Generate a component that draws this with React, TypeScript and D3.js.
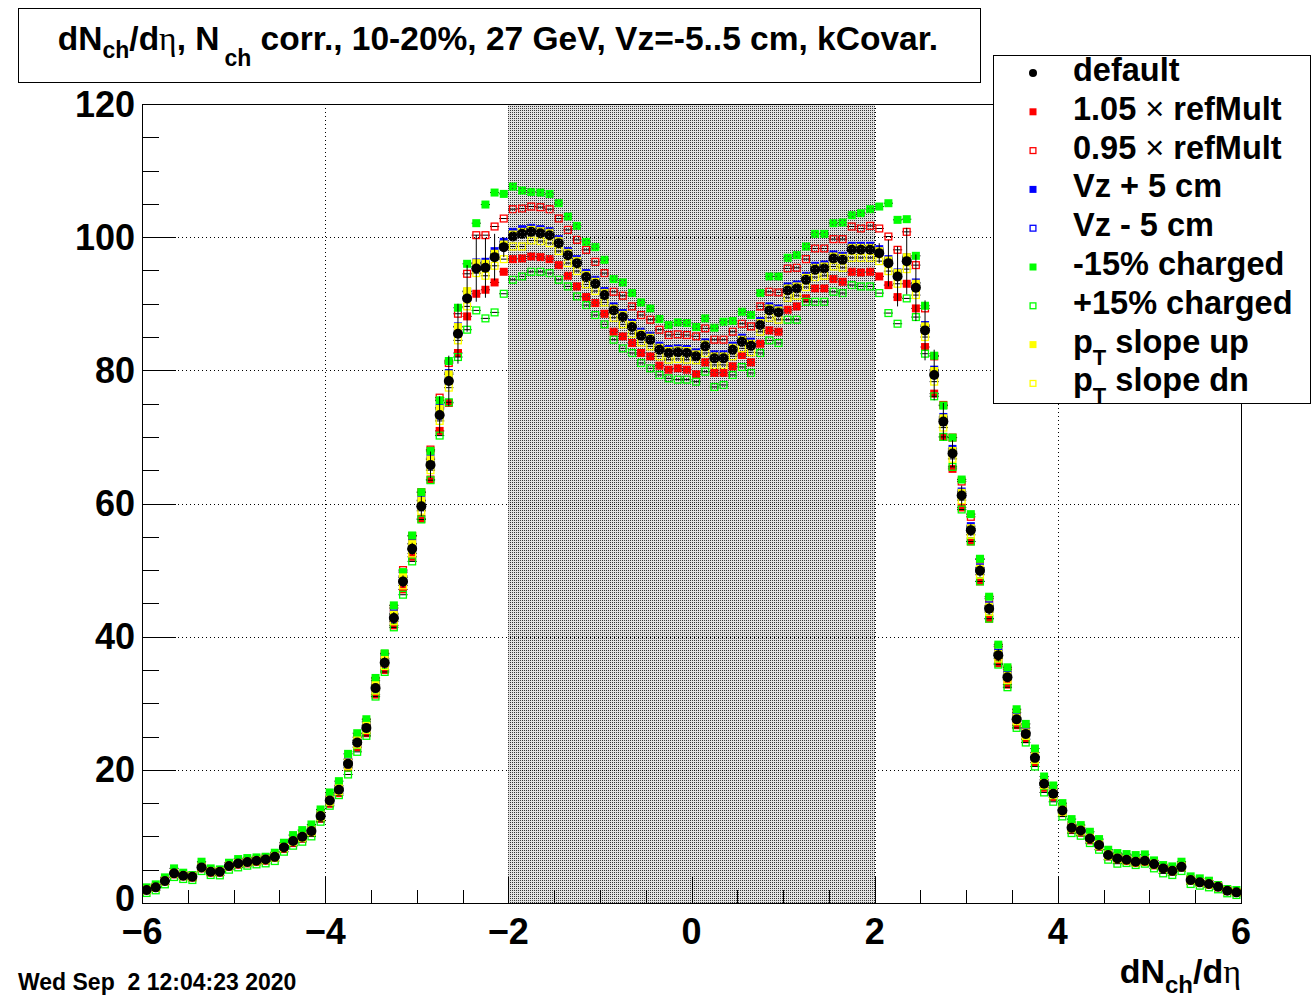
import React from "react";
import * as d3 from "d3";

// ---- binning of the histogram (eta axis) ----
const ETA_MIN = -6;
const ETA_MAX = 6;
const N_BINS = 120;
const Y_MIN = 0;
const Y_MAX = 120;

// ---- series values (dNch/deta per bin, bins from -6 to 6, width 0.1) ----
const DEFAULT = [
  1.95, 2.35, 3.3, 4.45, 4.1, 3.95, 5.35, 4.7, 4.7, 5.55,
  5.95, 6.15, 6.35, 6.55, 6.95, 8.35, 9.3, 9.95, 10.8, 13.05,
  15.4, 17.0, 20.9, 24.1, 26.3, 32.3, 36.1, 42.8, 48.3, 53.2,
  59.6, 65.8, 73.3, 78.4, 85.5, 90.8, 95.3, 95.4, 97.0, 98.5,
  100.1, 100.5, 100.8, 100.6, 100.3, 99.1, 97.3, 96.1, 94.0, 93.0,
  91.3, 89.0, 88.0, 86.5, 85.2, 84.6, 83.1, 82.6, 82.7, 82.6,
  82.1, 83.6, 81.8, 81.8, 83.1, 84.3, 83.7, 86.8, 89.0, 88.7,
  92.0, 92.3, 93.6, 95.1, 95.3, 96.8, 96.6, 98.1, 98.1, 98.1,
  97.6, 96.1, 94.1, 96.4, 92.4, 86.0, 79.3, 72.3, 67.5, 61.2,
  56.0, 49.9, 44.2, 37.2, 33.9, 27.6, 25.4, 21.8, 17.9, 16.4,
  13.9, 11.3, 10.9, 9.7, 8.7, 7.2, 6.7, 6.5, 6.2, 6.35,
  5.85, 5.2, 4.85, 5.45, 3.45, 3.1, 2.85, 2.45, 1.85, 1.6,
];

const DEFAULT_ERR = [
  0.3, 0.3, 0.3, 0.3, 0.3, 0.3, 0.3, 0.3, 0.3, 0.3,
  0.3, 0.3, 0.3, 0.3, 0.3, 0.3, 0.4, 0.4, 0.4, 0.4,
  0.6, 0.6, 0.6, 0.6, 0.6, 0.6, 0.9, 0.9, 0.9, 0.9,
  1.5, 2.0, 2.8, 3.8, 4.5, 5.0, 5.0, 4.5, 3.5, 1.5,
  0.6, 0.6, 0.6, 0.6, 0.6, 0.6, 0.6, 0.6, 0.6, 0.6,
  0.6, 0.6, 0.6, 0.6, 0.6, 0.6, 0.6, 0.6, 0.6, 0.6,
  0.6, 0.6, 0.6, 0.6, 0.6, 0.6, 0.6, 0.6, 0.6, 0.6,
  0.6, 0.6, 0.6, 0.6, 0.6, 0.6, 0.6, 0.6, 0.6, 0.6,
  1.5, 3.5, 4.5, 5.0, 5.0, 4.5, 3.8, 2.8, 2.0, 1.5,
  0.9, 0.9, 0.9, 0.9, 0.6, 0.6, 0.6, 0.6, 0.6, 0.6,
  0.4, 0.4, 0.4, 0.4, 0.3, 0.3, 0.3, 0.3, 0.3, 0.3,
  0.3, 0.3, 0.3, 0.3, 0.3, 0.3, 0.3, 0.3, 0.3, 0.3,
];

const REF105 = [
  1.9, 2.3, 3.2, 4.3, 4.0, 3.8, 5.2, 4.55, 4.55, 5.4,
  5.75, 5.95, 6.15, 6.35, 6.75, 8.1, 9.0, 9.65, 10.5, 12.65,
  14.9, 16.5, 20.3, 23.4, 25.5, 31.3, 35.0, 41.7, 47.1, 52.0,
  57.7, 63.6, 70.9, 75.1, 82.6, 88.1, 91.5, 92.1, 93.2, 94.8,
  96.7, 96.8, 97.1, 97.0, 96.7, 95.8, 94.2, 92.6, 91.0, 90.1,
  88.5, 85.8, 85.1, 84.1, 82.6, 82.1, 80.7, 80.1, 80.3, 80.1,
  79.4, 81.2, 79.6, 79.6, 80.6, 82.3, 81.2, 84.0, 86.0, 85.8,
  89.1, 89.6, 90.8, 92.3, 92.3, 93.7, 93.3, 94.8, 94.7, 94.8,
  94.1, 92.8, 91.0, 93.0, 89.3, 83.5, 76.5, 70.0, 65.2, 59.4,
  54.3, 48.3, 42.7, 36.0, 32.8, 26.7, 24.6, 21.1, 17.3, 15.9,
  13.5, 10.95, 10.55, 9.4, 8.45, 7.0, 6.5, 6.3, 6.0, 6.15,
  5.65, 5.05, 4.7, 5.3, 3.35, 3.0, 2.75, 2.35, 1.8, 1.55,
];

const REF095 = [
  2.0, 2.45, 3.4, 4.6, 4.25, 4.1, 5.55, 4.85, 4.85, 5.75,
  6.15, 6.35, 6.55, 6.8, 7.2, 8.65, 9.6, 10.3, 11.2, 13.5,
  15.9, 17.6, 21.6, 24.9, 27.2, 33.4, 37.4, 44.3, 50.0, 55.1,
  61.7, 68.1, 75.9, 81.1, 88.5, 94.5, 100.3, 100.3, 101.6, 102.8,
  104.2, 104.3, 104.6, 104.5, 104.2, 102.8, 101.1, 99.6, 98.1, 96.3,
  94.6, 91.8, 91.2, 89.6, 88.3, 87.6, 86.1, 85.3, 85.4, 85.3,
  85.1, 86.3, 84.6, 84.6, 85.8, 87.0, 86.6, 89.6, 91.8, 91.7,
  95.3, 95.4, 96.7, 98.3, 98.3, 99.7, 99.7, 101.6, 101.3, 101.7,
  101.3, 100.1, 98.1, 100.8, 95.8, 89.3, 82.1, 74.8, 69.9, 63.3,
  58.0, 51.6, 45.7, 38.5, 35.1, 28.6, 26.3, 22.6, 18.5, 17.0,
  14.4, 11.7, 11.3, 10.0, 9.0, 7.45, 6.95, 6.7, 6.4, 6.55,
  6.05, 5.4, 5.0, 5.65, 3.55, 3.2, 2.95, 2.55, 1.9, 1.65,
];

const VZ_PLUS = [
  1.95, 2.4, 3.35, 4.5, 4.15, 4.0, 5.4, 4.75, 4.75, 5.6,
  6.0, 6.2, 6.4, 6.6, 7.0, 8.45, 9.4, 10.05, 10.9, 13.2,
  15.6, 17.3, 21.2, 24.5, 26.7, 32.8, 36.7, 43.5, 49.1, 54.0,
  60.5, 66.8, 74.4, 79.6, 86.6, 91.8, 96.2, 96.3, 97.9, 99.3,
  100.8, 101.2, 101.4, 101.2, 100.9, 99.7, 97.9, 96.7, 94.6, 93.6,
  91.9, 89.6, 88.6, 87.1, 85.8, 85.2, 83.7, 83.2, 83.3, 83.2,
  82.7, 84.2, 82.4, 82.4, 83.7, 84.9, 84.3, 87.4, 89.6, 89.3,
  92.6, 92.9, 94.2, 95.7, 95.9, 97.4, 97.2, 98.7, 98.7, 98.7,
  98.2, 96.7, 94.7, 97.0, 93.2, 86.8, 80.1, 73.0, 68.2, 61.8,
  56.6, 50.4, 44.7, 37.6, 34.3, 27.9, 25.7, 22.0, 18.1, 16.6,
  14.05, 11.4, 11.0, 9.8, 8.8, 7.3, 6.8, 6.55, 6.25, 6.4,
  5.9, 5.25, 4.9, 5.5, 3.5, 3.15, 2.9, 2.5, 1.9, 1.6,
];

const VZ_MINUS = [
  1.9, 2.35, 3.25, 4.4, 4.1, 3.9, 5.3, 4.7, 4.65, 5.5,
  5.9, 6.1, 6.3, 6.5, 6.9, 8.3, 9.25, 9.9, 10.75, 13.0,
  15.3, 16.9, 20.8, 24.0, 26.2, 32.2, 36.0, 42.7, 48.2, 53.1,
  59.5, 65.7, 73.2, 78.4, 85.6, 91.0, 95.6, 95.8, 97.4, 98.9,
  100.5, 100.9, 101.1, 100.9, 100.6, 99.4, 97.6, 96.4, 94.3, 93.3,
  91.6, 89.3, 88.3, 86.8, 85.5, 84.9, 83.4, 82.9, 83.0, 82.9,
  82.4, 83.9, 82.1, 82.1, 83.4, 84.6, 84.0, 87.1, 89.3, 89.0,
  92.3, 92.6, 93.9, 95.4, 95.6, 97.1, 96.9, 98.4, 98.4, 98.4,
  97.9, 96.4, 94.4, 96.7, 92.7, 86.3, 79.6, 72.6, 67.8, 61.5,
  56.2, 50.1, 44.4, 37.4, 34.1, 27.7, 25.5, 21.9, 18.0, 16.5,
  13.95, 11.35, 10.95, 9.75, 8.75, 7.25, 6.75, 6.5, 6.2, 6.35,
  5.85, 5.2, 4.85, 5.45, 3.45, 3.1, 2.85, 2.45, 1.85, 1.6,
];

const CHG_M15 = [
  2.35, 2.8, 3.85, 5.2, 4.55, 4.2, 6.2, 5.2, 5.05, 6.05,
  6.6, 6.75, 6.85, 6.95, 7.55, 9.05, 10.2, 10.95, 11.8, 14.05,
  16.6, 18.3, 22.4, 25.5, 27.6, 33.8, 37.5, 44.7, 49.7, 55.2,
  61.7, 67.9, 75.5, 81.4, 89.4, 96.0, 102.1, 104.9, 106.7, 106.5,
  107.6, 107.0, 106.8, 106.7, 106.5, 105.1, 103.1, 101.7, 99.3, 98.5,
  96.6, 93.7, 93.2, 91.6, 90.2, 89.3, 87.7, 86.8, 87.2, 87.1,
  86.5, 87.8, 86.4, 87.3, 87.4, 88.8, 88.3, 91.6, 94.1, 94.1,
  96.9, 97.3, 98.6, 100.5, 100.5, 102.1, 102.2, 103.3, 103.6, 104.2,
  104.6, 105.1, 102.6, 102.7, 97.2, 89.7, 82.2, 74.7, 69.9, 63.6,
  58.4, 51.7, 46.0, 38.8, 35.4, 29.1, 26.9, 23.2, 19.0, 17.65,
  15.0, 12.6, 11.7, 10.7, 9.6, 8.0, 7.5, 7.35, 7.2, 7.3,
  6.4, 5.7, 5.5, 6.2, 4.0, 3.7, 3.35, 2.7, 2.1, 1.95,
];

const CHG_P15 = [
  1.5, 1.9, 2.8, 3.9, 3.6, 3.45, 4.8, 4.2, 4.15, 5.0,
  5.35, 5.6, 5.8, 5.95, 6.3, 7.7, 8.6, 9.2, 10.0, 12.2,
  14.6, 16.2, 19.3, 22.7, 25.1, 31.0, 34.7, 41.4, 46.3, 51.3,
  57.6, 63.5, 70.2, 75.2, 82.0, 86.1, 89.0, 87.8, 88.7, 91.5,
  93.6, 94.1, 94.8, 94.8, 94.6, 93.6, 92.6, 91.1, 89.8, 88.3,
  86.9, 84.6, 83.3, 82.6, 81.1, 80.3, 79.3, 78.8, 78.6, 78.6,
  78.3, 79.8, 77.5, 77.8, 79.3, 80.5, 79.6, 82.6, 84.5, 84.1,
  87.6, 87.6, 90.3, 90.3, 90.3, 91.8, 91.6, 92.8, 92.6, 92.6,
  91.6, 88.6, 87.0, 90.8, 88.0, 82.5, 76.1, 70.0, 65.5, 59.1,
  54.3, 48.3, 42.7, 35.8, 32.4, 26.3, 24.1, 20.5, 16.6, 15.2,
  13.0, 10.5, 10.1, 9.0, 8.0, 6.5, 5.9, 6.0, 5.7, 5.9,
  5.2, 4.45, 4.2, 4.8, 2.85, 2.6, 2.35, 2.05, 1.45, 1.2,
];

const PT_UP = [
  2.0, 2.4, 3.35, 4.5, 4.15, 4.0, 5.4, 4.75, 4.75, 5.6,
  6.0, 6.2, 6.4, 6.6, 7.0, 8.4, 9.35, 10.0, 10.9, 13.15,
  15.5, 17.2, 21.1, 24.4, 26.6, 32.7, 36.5, 43.3, 48.9, 53.9,
  60.4, 66.6, 74.2, 79.4, 86.5, 91.9, 96.1, 96.0, 97.5, 98.9,
  100.4, 100.8, 101.1, 100.9, 100.6, 99.4, 97.6, 96.4, 94.3, 93.3,
  91.6, 89.3, 88.3, 86.8, 85.5, 84.9, 83.4, 82.9, 83.0, 82.9,
  82.4, 83.9, 82.1, 82.1, 83.4, 84.6, 84.0, 87.1, 89.3, 89.0,
  92.3, 92.6, 93.9, 95.4, 95.6, 97.1, 96.9, 98.4, 98.4, 98.4,
  97.9, 96.5, 94.6, 97.0, 93.0, 86.6, 79.9, 72.8, 67.9, 61.6,
  56.3, 50.2, 44.5, 37.4, 34.1, 27.8, 25.6, 22.0, 18.0, 16.5,
  14.0, 11.4, 11.0, 9.8, 8.8, 7.3, 6.8, 6.55, 6.25, 6.4,
  5.9, 5.25, 4.9, 5.5, 3.5, 3.15, 2.9, 2.5, 1.9, 1.65,
];

const PT_DN = [
  1.9, 2.3, 3.25, 4.4, 4.05, 3.9, 5.3, 4.65, 4.65, 5.5,
  5.9, 6.1, 6.25, 6.45, 6.85, 8.25, 9.2, 9.8, 10.65, 12.9,
  15.2, 16.8, 20.6, 23.8, 26.0, 31.9, 35.6, 42.3, 47.7, 52.5,
  58.9, 65.0, 72.4, 77.4, 84.5, 89.6, 94.6, 94.2, 95.7, 96.7,
  98.6, 98.6, 99.5, 99.4, 99.1, 97.9, 96.1, 94.9, 92.9, 91.9,
  90.2, 87.9, 86.9, 85.5, 84.2, 83.6, 82.1, 81.6, 81.7, 81.6,
  81.5, 82.6, 80.8, 80.8, 82.1, 83.3, 82.7, 85.8, 87.9, 87.6,
  90.9, 91.2, 92.5, 94.0, 94.2, 95.6, 95.4, 96.9, 96.9, 96.9,
  96.4, 94.9, 93.0, 95.2, 91.3, 85.0, 78.3, 71.4, 66.7, 60.5,
  55.3, 49.3, 43.7, 36.7, 33.5, 27.3, 25.1, 21.5, 17.7, 16.2,
  13.7, 11.2, 10.75, 9.6, 8.6, 7.1, 6.6, 6.4, 6.1, 6.25,
  5.8, 5.15, 4.8, 5.4, 3.4, 3.05, 2.8, 2.4, 1.8, 1.6,
];

const X_TICKS = [-6, -4, -2, 0, 2, 4, 6];
const Y_TICKS = [0, 20, 40, 60, 80, 100, 120];
const SHADED_RANGE = [-2, 2];

// ---- layout ----
const W = 1314;
const H = 997;
const FRAME = { left: 142, right: 1241, top: 104, bottom: 903 };
const FONT = "'Liberation Sans', Arial, Helvetica, sans-serif";
const SERIF = "'Liberation Serif', 'DejaVu Serif', serif";

type Series = { key: string; values: number[]; color: string; filled: boolean };

const VARIANTS: Series[] = [
  { key: "ref105", values: REF105, color: "#ff0000", filled: true },
  { key: "ref095", values: REF095, color: "#ff0000", filled: false },
  { key: "vzp", values: VZ_PLUS, color: "#0000ff", filled: true },
  { key: "vzm", values: VZ_MINUS, color: "#0000ff", filled: false },
  { key: "chm", values: CHG_M15, color: "#00ff00", filled: true },
  { key: "chp", values: CHG_P15, color: "#00ff00", filled: false },
  { key: "ptu", values: PT_UP, color: "#ffff00", filled: true },
  { key: "ptd", values: PT_DN, color: "#ffff00", filled: false },
];

const binWidth = (ETA_MAX - ETA_MIN) / N_BINS;
const ETA = d3.range(N_BINS).map((i) => ETA_MIN + binWidth * (i + 0.5));

const x = d3.scaleLinear().domain([ETA_MIN, ETA_MAX]).range([FRAME.left, FRAME.right]);
const y = d3.scaleLinear().domain([Y_MIN, Y_MAX]).range([FRAME.bottom, FRAME.top]);

const MARK = 8;

function Marker({ cx, cy, color, filled, size = MARK }: any) {
  if (filled) {
    return <rect x={cx - size / 2} y={cy - size / 2} width={size} height={size} fill={color} />;
  }
  const s = size - 1.2;
  return (
    <rect x={cx - s / 2} y={cy - s / 2} width={s} height={s} fill="none" stroke={color} strokeWidth={1.3} />
  );
}

function SeriesMarks({ s }: { s: Series }) {
  return (
    <g>
      {s.values.map((v, i) => (
        <line
          key={"h" + i}
          x1={x(ETA[i] - binWidth / 2)}
          x2={x(ETA[i] + binWidth / 2)}
          y1={y(v)}
          y2={y(v)}
          stroke="#000"
          strokeWidth={1}
        />
      ))}
      {s.values.map((v, i) => (
        <Marker key={"m" + i} cx={x(ETA[i])} cy={y(v)} color={s.color} filled={s.filled} />
      ))}
    </g>
  );
}

export default function App() {
  const xMinor = d3.range(ETA_MIN, ETA_MAX + 0.001, 0.5);
  const yMinor = d3.range(Y_MIN, Y_MAX + 0.001, 5);
  const xGrid = X_TICKS.filter((t) => t > ETA_MIN && t < ETA_MAX);
  const yGrid = Y_TICKS.filter((t) => t > Y_MIN && t < Y_MAX);

  const bandX0 = Math.round(x(SHADED_RANGE[0]));
  const bandX1 = Math.round(x(SHADED_RANGE[1]));

  const legendRows = [
    { label: <tspan>default</tspan>, color: "#000", kind: "circle" },
    { label: (<><tspan>1.05 </tspan><tspan fontWeight="normal">×</tspan><tspan> refMult</tspan></>), color: "#ff0000", kind: "filled" },
    { label: (<><tspan>0.95 </tspan><tspan fontWeight="normal">×</tspan><tspan> refMult</tspan></>), color: "#ff0000", kind: "open" },
    { label: <tspan>Vz + 5 cm</tspan>, color: "#0000ff", kind: "filled" },
    { label: <tspan>Vz - 5 cm</tspan>, color: "#0000ff", kind: "open" },
    { label: <tspan>-15% charged</tspan>, color: "#00ff00", kind: "filled" },
    { label: <tspan>+15% charged</tspan>, color: "#00ff00", kind: "open" },
    { label: (<><tspan>p</tspan><tspan fontSize={22} dy={12}>T</tspan><tspan dy={-12}> slope up</tspan></>), color: "#ffff00", kind: "filled" },
    { label: (<><tspan>p</tspan><tspan fontSize={22} dy={12}>T</tspan><tspan dy={-12}> slope dn</tspan></>), color: "#ffff00", kind: "open" },
  ];

  return (
    <svg
      width={W}
      height={H}
      viewBox={`0 0 ${W} ${H}`}
      style={{ position: "absolute", left: 0, top: 0, background: "#fff" }}
      fontFamily={FONT}
    >
      <defs>
        <pattern id="dotsUnder" width={2} height={2} patternUnits="userSpaceOnUse">
          <rect x={0} y={0} width={1} height={1} fill="#333" />
        </pattern>
        <pattern id="dotsOver" width={4} height={4} patternUnits="userSpaceOnUse">
          <rect x={0} y={0} width={1} height={1} fill="#444" />
        </pattern>
        <clipPath id="frameClip">
          <rect x={FRAME.left} y={FRAME.top} width={FRAME.right - FRAME.left} height={FRAME.bottom - FRAME.top} />
        </clipPath>
      </defs>
      <rect x={0} y={0} width={W} height={H} fill="#fff" />

      {/* shaded band (under the markers) */}
      <rect x={bandX0} y={FRAME.top} width={bandX1 - bandX0} height={FRAME.bottom - FRAME.top} fill="#e2e2e2" />
      <rect
        x={bandX0}
        y={FRAME.top}
        width={bandX1 - bandX0}
        height={FRAME.bottom - FRAME.top}
        fill="url(#dotsUnder)"
        shapeRendering="crispEdges"
      />

      {/* grid */}
      <g stroke="#000" strokeWidth={1} strokeDasharray="1 3" shapeRendering="crispEdges">
        {xGrid.map((t) => (
          <line key={"gx" + t} x1={Math.round(x(t)) + 0.5} x2={Math.round(x(t)) + 0.5} y1={FRAME.top} y2={FRAME.bottom} />
        ))}
        {yGrid.map((t) => (
          <line key={"gy" + t} x1={FRAME.left} x2={FRAME.right} y1={Math.round(y(t)) + 0.5} y2={Math.round(y(t)) + 0.5} />
        ))}
      </g>

      {/* data */}
      <g clipPath="url(#frameClip)">
        {VARIANTS.map((s) => (
          <SeriesMarks key={s.key} s={s} />
        ))}
        <g stroke="#000" strokeWidth={1}>
          {DEFAULT.map((v, i) => (
            <g key={"e" + i}>
              <line x1={x(ETA[i])} x2={x(ETA[i])} y1={y(v - DEFAULT_ERR[i])} y2={y(v + DEFAULT_ERR[i])} />
              <line x1={x(ETA[i] - binWidth / 2)} x2={x(ETA[i] + binWidth / 2)} y1={y(v)} y2={y(v)} />
            </g>
          ))}
        </g>
        {DEFAULT.map((v, i) => (
          <circle key={"d" + i} cx={x(ETA[i])} cy={y(v)} r={5} fill="#000" />
        ))}
      </g>

      {/* light dot overlay on top of the markers in the band */}
      <rect
        x={bandX0}
        y={FRAME.top}
        width={bandX1 - bandX0}
        height={FRAME.bottom - FRAME.top}
        fill="url(#dotsOver)"
        shapeRendering="crispEdges"
      />

      {/* frame */}
      <rect
        x={FRAME.left + 0.5}
        y={FRAME.top + 0.5}
        width={FRAME.right - FRAME.left}
        height={FRAME.bottom - FRAME.top}
        fill="none"
        stroke="#000"
        strokeWidth={1}
      />

      {/* ticks */}
      <g stroke="#000" strokeWidth={1} shapeRendering="crispEdges">
        {xMinor.map((t) => {
          const major = X_TICKS.includes(t);
          const xx = Math.round(x(t)) + 0.5;
          return <line key={"tx" + t} x1={xx} x2={xx} y1={FRAME.bottom} y2={FRAME.bottom - (major ? 26 : 13)} />;
        })}
        {yMinor.map((t) => {
          const major = Y_TICKS.includes(t);
          const yy = Math.round(y(t)) + 0.5;
          return <line key={"ty" + t} x1={FRAME.left} x2={FRAME.left + (major ? 34 : 17)} y1={yy} y2={yy} />;
        })}
      </g>

      {/* tick labels */}
      <g fontWeight="bold" fontSize={36} fill="#000">
        {X_TICKS.map((t) => (
          <text key={"lx" + t} x={x(t)} y={944} textAnchor="middle">
            {t < 0 ? "\u2212" + Math.abs(t) : String(t)}
          </text>
        ))}
        {Y_TICKS.map((t) => (
          <text key={"ly" + t} x={135} y={Math.min(y(t) + 12.5, 911)} textAnchor="end">
            {t}
          </text>
        ))}
      </g>

      {/* axis title */}
      <text x={FRAME.right} y={983} textAnchor="end" fontWeight="bold" fontSize={34}>
        <tspan>dN</tspan>
        <tspan fontSize={24} dy={10}>ch</tspan>
        <tspan dy={-10}>/d</tspan>
        <tspan fontFamily={SERIF} fontWeight="normal">η</tspan>
      </text>

      {/* title box */}
      <rect x={18.5} y={8.5} width={962} height={74} fill="#fff" stroke="#000" strokeWidth={1} />
      <text x={498} y={50} textAnchor="middle" fontWeight="bold" fontSize={33.5} style={{ whiteSpace: "pre" }}>
        <tspan>dN</tspan>
        <tspan fontSize={23} dy={8}>ch</tspan>
        <tspan dy={-8}>/d</tspan>
        <tspan fontFamily={SERIF} fontWeight="normal">η</tspan>
        <tspan>, N</tspan>
        <tspan fontSize={23} dy={16} dx={5}>ch</tspan>
        <tspan dy={-16}> corr., 10-20%, 27 GeV, Vz=-5..5 cm, kCovar.</tspan>
      </text>

      {/* legend */}
      <rect x={993.5} y={55.5} width={317} height={348} fill="#fff" stroke="#000" strokeWidth={1} />
      {legendRows.map((r, i) => {
        const cy = 73 + i * 38.8;
        return (
          <g key={"lg" + i}>
            {r.kind === "circle" ? (
              <circle cx={1033} cy={cy} r={4} fill="#000" />
            ) : (
              <Marker cx={1033} cy={cy} color={r.color} filled={r.kind === "filled"} size={7} />
            )}
            <text x={1073} y={cy + 8} fontWeight="bold" fontSize={32.5} style={{ whiteSpace: "pre" }}>
              {r.label}
            </text>
          </g>
        );
      })}

      {/* date stamp */}
      <text x={18} y={990} fontWeight="bold" fontSize={23} style={{ whiteSpace: "pre" }}>
        {"Wed Sep  2 12:04:23 2020"}
      </text>
    </svg>
  );
}
